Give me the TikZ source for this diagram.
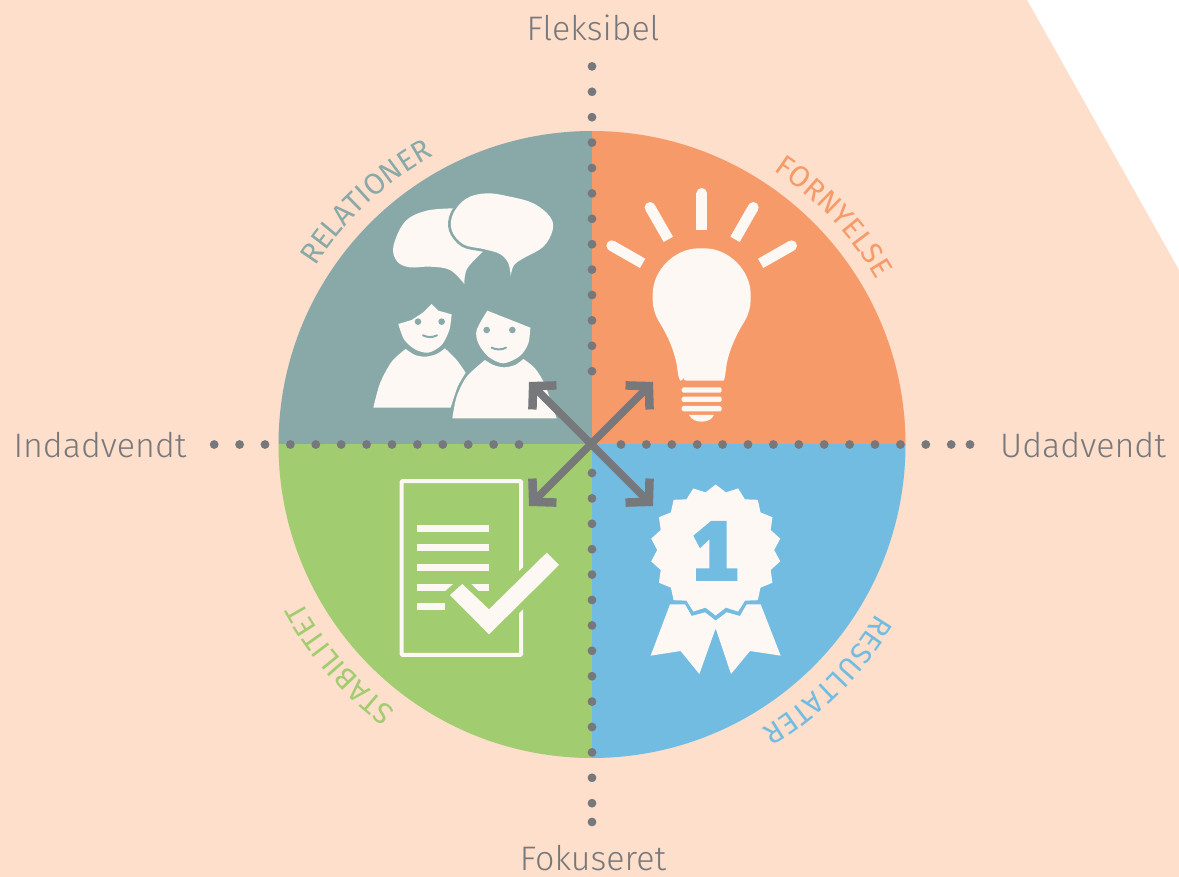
\documentclass[tikz,border=0pt]{standalone}
\usepackage{fontspec}
\setmainfont{Fira Sans}
\newfontfamily\axisfont{Fira Sans Light}
\usetikzlibrary{arrows.meta,decorations.text}
\definecolor{bgc}{HTML}{FDDFCB}
\definecolor{tealc}{HTML}{88A9A8}
\definecolor{orangec}{HTML}{F59A68}
\definecolor{bluec}{HTML}{72BCE2}
\definecolor{greenc}{HTML}{A1CC6F}
\definecolor{iconc}{HTML}{FDF8F4}
\definecolor{grayc}{HTML}{77787C}
\definecolor{lblc}{HTML}{77787C}
\tikzset{
  axis label/.style={text=lblc,font=\axisfont\fontsize{34}{34}\selectfont,anchor=base,inner sep=0pt},
  dotc/.style={fill=grayc},
  diag/.style={draw=grayc,line width=7.5pt,
    {Straight Barb[sharp,length=16pt,width=34pt,line width=8.5pt]}-{Straight Barb[sharp,length=16pt,width=34pt,line width=8.5pt]}},
  zoomed/.style={x=0.33333pt,y=-0.33333pt},
}
\newcommand{\arclabel}[4]{%
  \path[decorate,decoration={text along path,text align=center,
    text={|\fontsize{29.5}{29.5}\selectfont\color{#4}|#1}}]
    (#3+32:#2) arc[start angle=#3+32,end angle=#3-32,radius=#2];}
\begin{document}
\begin{tikzpicture}[x=1pt,y=-1pt]
\useasboundingbox (0,0) rectangle (1179,877);
\fill[white] (0,0) rectangle (1179,877);
\fill[bgc] (0,0) -- (1027,0) -- (1179,270) -- (1179,877) -- (0,877) -- cycle;
\coordinate (c) at (592,444.5);
% sectors
\begin{scope}
  \clip (c) circle[radius=313.5pt];
  \fill[tealc] (270,120) rectangle (c);
  \fill[orangec] (c) rectangle (920,120);
  \fill[greenc] (270,770) rectangle (c);
  \fill[bluec] (c) rectangle (920,770);
\end{scope}
% dotted axes
\foreach \k in {0,...,12} {\fill[dotc] (214.2+25.4*\k,444.5) circle[radius=4.4pt];}
\foreach \k in {0,...,13} {\fill[dotc] (621+25.4*\k,444.5) circle[radius=4.4pt];}
\fill[dotc] (970,444.5) circle[radius=4.4pt];
\foreach \k in {0,...,12} {\fill[dotc] (592,66.4+25.4*\k) circle[radius=4.4pt];}
\foreach \k in {0,...,13} {\fill[dotc] (592,473+25.4*\k) circle[radius=4.4pt];}
\fill[dotc] (592,822) circle[radius=4.4pt];
% axis labels
\node[axis label] (top) at (593,41) {Fleksibel};
\node[axis label] (bot) at (593,870) {Fokuseret};
\node[axis label] (lft) at (100,457) {Indadvendt};
\node[axis label] (rgt) at (1083,457) {Udadvendt};
% curved labels
\begin{scope}[shift={(c)},x=1pt,y=1pt]
  \arclabel{RELATIONER}{329}{133}{tealc}
  \arclabel{FORNYELSE}{329}{43.25}{orangec}
  \arclabel{RESULTATER}{331}{-45}{bluec}
  \arclabel{STABILITET}{330}{221}{greenc}
\end{scope}
% people and bubbles
\begin{scope}[shift={(360,180)},zoomed]
  \fill[iconc] plot[smooth,tension=.6] coordinates {(285,85) (200,92) (135,125) (100,200) (112,245) (150,262) (210,260) (270,270) (313,312)}
     -- plot[smooth,tension=.6] coordinates {(313,312) (322,265) (372,212)} -- cycle;
  \path[preaction={draw=tealc,line width=5.5pt},fill=iconc] plot[smooth,tension=.6] coordinates {(452,288) (445,250) (420,222) (370,207) (310,193) (275,150) (280,100) (320,55) (380,40) (450,50) (520,70) (570,110) (578,150) (550,200) (490,235) (462,255) (452,288)} -- cycle;
  % left person
  \fill[iconc] (115,432) -- (155,420) -- (190,397) -- (215,372) -- (235,392) -- (275,403)
     -- plot[smooth] coordinates {(275,403) (268,450) (245,495) (205,518) (165,508) (132,478) (115,432)} -- cycle;
  \fill[iconc] plot[smooth] coordinates {(137,507) (165,525) (197,530) (230,522) (255,505)}
     -- plot[smooth] coordinates {(255,505) (290,540) (317,578)}
     -- plot[smooth] coordinates {(317,578) (293,620) (272,683)} -- (40,683)
     -- plot[smooth] coordinates {(40,683) (60,610) (95,545) (137,507)} -- cycle;
  \fill[tealc] (174,425) circle[radius=3.3pt] (245,425) circle[radius=3.3pt];
  \draw[tealc,line width=2pt,line cap=round] (189,466) .. controls (203,473) and (217,473) .. (231,466);
  % right person
  \fill[iconc] (382,392) -- (511,443)
     -- plot[smooth] coordinates {(511,443) (505,490) (480,528) (430,550) (385,530) (355,490) (350,450) (382,392)} -- cycle;
  \fill[iconc] plot[smooth] coordinates {(375,540) (400,555) (432,562) (465,555) (490,537)}
     -- plot[smooth] coordinates {(490,537) (525,565) (555,615) (590,715)} -- (277,715)
     -- plot[smooth] coordinates {(277,715) (290,650) (320,590) (375,540)} -- cycle;
  \fill[tealc] (380,450) circle[radius=3.3pt] (457,450) circle[radius=3.3pt];
  \draw[tealc,line width=2pt,line cap=round] (395,503) .. controls (408,510) and (425,510) .. (438,503);
\end{scope}
% light bulb
\begin{scope}[shift={(600,180)},zoomed]
  \foreach \xa/\ya/\xb/\yb in {305/150/305/40, 205/178/150/82, 405/178/460/82, 128/250/35/197, 482/250/575/197} {
    \draw[iconc,line width=10.7pt] (\xa,\ya) -- (\xb,\yb);
    \fill[iconc] (\xb,\yb) circle[radius=5.35pt];
  }
  \fill[iconc,rounded corners=3pt] (250,602) -- (362,602)
    .. controls (372,602) and (375,590) .. (377,575)
    .. controls (382,530) and (400,480) .. (430,430)
    .. controls (445,405) and (452,380) .. (452,352)
    .. controls (452,270) and (385,205) .. (305,205)
    .. controls (225,205) and (158,270) .. (158,352)
    .. controls (158,380) and (165,405) .. (180,430)
    .. controls (210,480) and (228,530) .. (233,575)
    .. controls (235,590) and (240,602) .. (250,602) -- cycle;
  \foreach \yy in {622,650,678} {
    \fill[iconc] (245,\yy) [rounded corners=1.5pt] rectangle (365,\yy+16);
  }
  \fill[iconc] (267,705) -- (342,705) .. controls (335,720) and (320,725) .. (305,725) .. controls (290,725) and (275,720) .. (267,705) -- cycle;
\end{scope}
% document and check
\begin{scope}[shift={(390,470)},zoomed]
  \draw[iconc,line width=4pt,rounded corners=1pt] (35,33) rectangle (393,555);
  \foreach \yy in {165,223,282,341,399} {\fill[iconc] (81,\yy) rectangle (297,\yy+21);}
  \fill[greenc] (165,399) rectangle (297,420);
  \draw[greenc,fill=greenc,line width=12pt,miter limit=10] (180,375) -- (217,342) -- (297,418) -- (470,248) -- (507,285) -- (297,493) -- cycle;
  \fill[iconc] (180,375) -- (217,342) -- (297,418) -- (470,248) -- (507,285) -- (297,493) -- cycle;
\end{scope}
% rosette
\begin{scope}[shift={(630,470)},zoomed]
  \fill[iconc] (120,403) -- (165,403) -- (185,438) -- (225,427) -- (257,452) -- (290,427) -- (330,438) -- (350,403) -- (392,403) -- (452,557) -- (360,543) -- (303,612) -- (257,475) -- (208,612) -- (152,543) -- (62,557) -- cycle;
\end{scope}
\begin{scope}[shift={(715.7,550)},x=1pt,y=1pt]
  \fill[iconc] (90:65.5) \foreach \i in {1,...,17} { -- (100-20*\i:58.5) -- (90-20*\i:65.5)} -- (-260:58.5) -- cycle;
\end{scope}
\begin{scope}[shift={(630,470)},zoomed]
  \fill[bluec] (243,153) -- (290,153) -- (290,295) -- (322,295) -- (322,333) -- (198,333) -- (198,295) -- (238,295) -- (238,208) -- (210,235) -- (190,197) -- cycle;
\end{scope}
% arrows
\coordinate (nw) at (529,382);
\coordinate (ne) at (653,382);
\coordinate (sw) at (529,506);
\coordinate (se) at (653,506);
\draw[diag] (nw) -- (se);
\draw[diag] (sw) -- (ne);
\end{tikzpicture}
\end{document}
